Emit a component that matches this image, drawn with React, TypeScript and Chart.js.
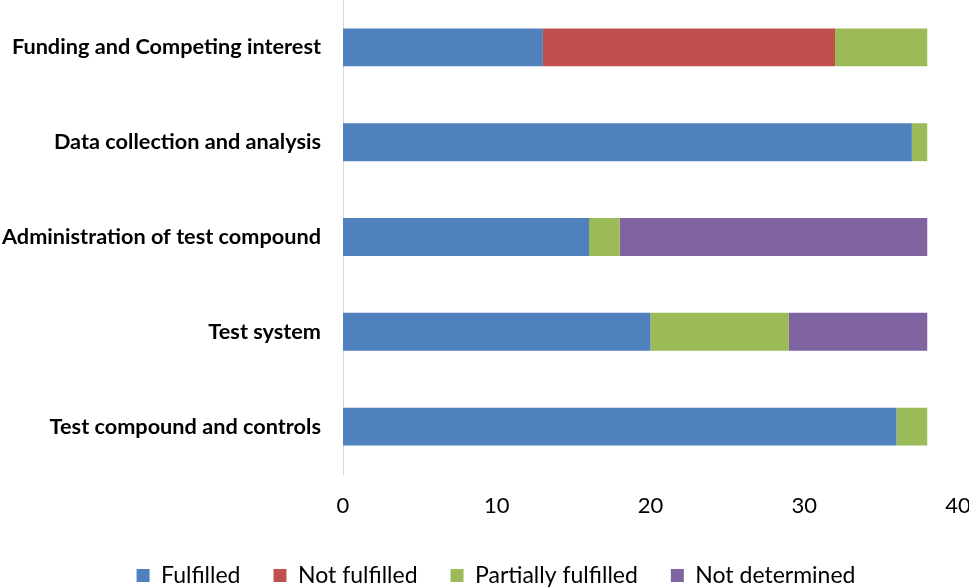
import React, { useEffect, useRef } from "react";
import { Chart, registerables } from "chart.js";

Chart.register(...registerables);

const categories = [
  "Funding and Competing interest",
  "Data collection and analysis",
  "Administration of test compound",
  "Test system",
  "Test compound and controls",
];
const fulfilled = [13, 37, 16, 20, 36];
const notFulfilled = [19, 0, 0, 0, 0];
const partiallyFulfilled = [6, 1, 2, 9, 2];
const notDetermined = [0, 0, 20, 9, 0];
const xTicks = [0, 10, 20, 30, 40];

const FONT = "Lato, 'Open Sans', sans-serif";

const legendShift = {
  id: "legendShift",
  afterLayout(chart: any) {
    const l = chart.legend;
    if (l) {
      l.left += 17;
      l.right += 17;
    }
  },
};

export default function App() {
  const ref = useRef<HTMLCanvasElement | null>(null);

  useEffect(() => {
    if (!ref.current) return;
    const chart = new Chart(ref.current, {
      type: "bar",
      data: {
        labels: categories,
        datasets: [
          { label: "Fulfilled", data: fulfilled, backgroundColor: "#4F81BD" },
          { label: "Not fulfilled", data: notFulfilled, backgroundColor: "#C0504D" },
          { label: "Partially fulfilled", data: partiallyFulfilled, backgroundColor: "#9BBB59" },
          { label: "Not determined", data: notDetermined, backgroundColor: "#8064A2" },
        ],
      },
      plugins: [legendShift],
      options: {
        indexAxis: "y",
        responsive: false,
        animation: false,
        devicePixelRatio: 1,
        layout: { padding: { left: 0, right: 11, top: 0, bottom: 0 } },
        datasets: { bar: { barPercentage: 0.4, categoryPercentage: 1, borderWidth: 0 } },
        scales: {
          x: {
            stacked: true,
            min: 0,
            max: 40,
            afterBuildTicks: (scale: any) => {
              scale.ticks = xTicks.map((v) => ({ value: v }));
            },
            afterFit: (scale: any) => {
              scale.height = 57;
              scale.paddingLeft = 0;
              scale.paddingRight = 0;
              scale.paddingTop = 0;
              scale.paddingBottom = 0;
            },
            grid: { display: false, drawTicks: false },
            border: { display: false },
            ticks: {
              padding: 19,
              color: "#000",
              font: { family: FONT, size: 22 },
              maxRotation: 0,
            },
          },
          y: {
            stacked: true,
            afterFit: (scale: any) => {
              scale.width = 343;
              scale.paddingLeft = 0;
              scale.paddingRight = 0;
              scale.paddingTop = 0;
              scale.paddingBottom = 0;
            },
            grid: { display: false, drawTicks: false },
            border: { display: true, color: "#D9D9D9", width: 1 },
            ticks: {
              padding: 22,
              color: "#000",
              font: { family: FONT, size: 21.7, weight: "bold" },
            },
          },
        },
        plugins: {
          tooltip: { enabled: false },
          legend: {
            position: "bottom",
            labels: {
              boxWidth: 13,
              boxHeight: 13,
              padding: 33,
              color: "#000",
              font: { family: FONT, size: 23 },
            },
          },
        },
      },
    });
    return () => chart.destroy();
  }, []);

  return (
    <div
      style={{
        position: "fixed",
        left: 0,
        top: 0,
        width: 969,
        height: 588,
        overflow: "hidden",
        background: "#fff",
      }}
    >
      <canvas ref={ref} width={969} height={597} style={{ display: "block" }} />
    </div>
  );
}
